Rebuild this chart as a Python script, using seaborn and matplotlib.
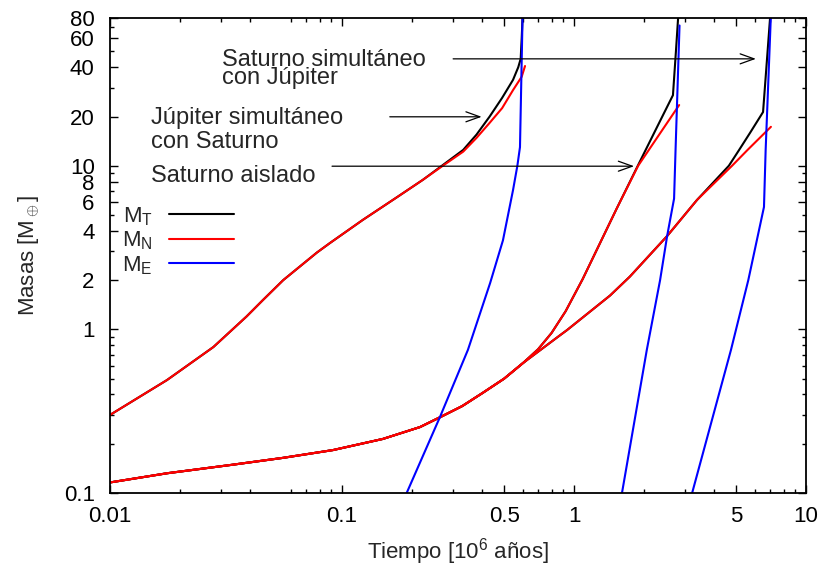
import numpy as np
import pandas as pd
import matplotlib
matplotlib.use("Agg")
import matplotlib.pyplot as plt
import seaborn as sns

# ---------------- data (time in 10^6 yr, masses in Earth masses) ----------------
# Júpiter simultáneo con Saturno
jup_t_T = [0.01, 0.0176, 0.0279, 0.0388, 0.0456, 0.0558, 0.078, 0.0887, 0.123, 0.173,
           0.223, 0.272, 0.333, 0.38, 0.433, 0.49, 0.546, 0.575, 0.589, 0.595, 0.60]
jup_M_T = [0.30, 0.49, 0.78, 1.20, 1.51, 2.0, 2.95, 3.37, 4.67, 6.44,
           8.2, 10.1, 12.5, 15.5, 20.0, 26.0, 33.5, 40.0, 45.0, 60.0, 80.0]
jup_t_N = [0.01, 0.0176, 0.0279, 0.0388, 0.0456, 0.0558, 0.078, 0.0887, 0.123, 0.173,
           0.223, 0.272, 0.333, 0.38, 0.433, 0.49, 0.546, 0.595, 0.615]
jup_M_N = [0.30, 0.49, 0.78, 1.20, 1.51, 2.0, 2.95, 3.37, 4.67, 6.44,
           8.2, 10.0, 12.2, 14.8, 18.3, 22.5, 29.0, 35.0, 40.7]
jup_t_E = [0.19, 0.264, 0.349, 0.435, 0.494, 0.546, 0.57, 0.585, 0.60]
jup_M_E = [0.1, 0.29, 0.75, 1.92, 3.5, 7.1, 10.0, 13.0, 80.0]

# common early growth of both Saturn runs
sat_t_0 = [0.01, 0.0176, 0.0339, 0.0557, 0.0915, 0.150, 0.217, 0.264, 0.33, 0.405, 0.5, 0.603]
sat_M_0 = [0.116, 0.132, 0.149, 0.164, 0.183, 0.214, 0.253, 0.29, 0.34, 0.41, 0.50, 0.623]

# Saturno aislado
sai_t_T = [0.70, 0.80, 0.92, 1.09, 1.53, 1.89, 2.25, 2.67, 2.75, 2.81]
sai_M_T = [0.756, 0.95, 1.29, 2.03, 5.5, 10.1, 16.6, 27.0, 50.0, 80.0]
sai_t_N = [0.70, 0.80, 0.92, 1.09, 1.53, 1.89, 2.3, 2.84]
sai_M_N = [0.756, 0.95, 1.29, 2.03, 5.5, 10.0, 15.1, 23.5]
sai_t_E = [1.61, 2.06, 2.35, 2.52, 2.70, 2.74, 2.85]
sai_M_E = [0.1, 0.75, 2.0, 3.72, 6.3, 12.5, 72.0]

# Saturno simultáneo con Júpiter
ssj_t_T = [0.87, 0.933, 1.43, 1.74, 2.52, 3.39, 4.65, 5.15, 5.74, 6.53, 6.75, 7.0]
ssj_M_T = [0.92, 0.99, 1.61, 2.1, 3.72, 6.18, 10.0, 12.5, 15.9, 21.3, 40.0, 80.0]
ssj_t_N = [0.87, 0.933, 1.43, 1.74, 2.52, 3.39, 4.8, 5.6, 7.06]
ssj_M_N = [0.92, 0.99, 1.61, 2.1, 3.72, 6.18, 10.0, 12.5, 17.3]
ssj_t_E = [3.23, 4.75, 5.64, 6.59, 6.7, 7.05]
ssj_M_E = [0.1, 0.75, 2.0, 5.6, 12.5, 80.0]

components = [r"$\mathrm{M_T}$", r"$\mathrm{M_N}$", r"$\mathrm{M_E}$"]
colors = ["black", "red", "blue"]

x_ticks = [0.01, 0.1, 0.5, 1, 5, 10]
x_labels = ["0.01", "0.1", "0.5", "1", "5", "10"]
y_ticks = [0.1, 1, 2, 4, 6, 8, 10, 20, 40, 60, 80]
y_labels = ["0.1", "1", "2", "4", "6", "8", "10", "20", "40", "60", "80"]

# ---------------- build long table ----------------
runs = {
    "jup": {components[0]: (jup_t_T, jup_M_T), components[1]: (jup_t_N, jup_M_N),
            components[2]: (jup_t_E, jup_M_E)},
    "sai": {components[0]: (sat_t_0 + sai_t_T, sat_M_0 + sai_M_T),
            components[1]: (sat_t_0 + sai_t_N, sat_M_0 + sai_M_N),
            components[2]: (sai_t_E, sai_M_E)},
    "ssj": {components[0]: (sat_t_0 + ssj_t_T, sat_M_0 + ssj_M_T),
            components[1]: (sat_t_0 + ssj_t_N, sat_M_0 + ssj_M_N),
            components[2]: (ssj_t_E, ssj_M_E)},
}
rows = []
for sim, comps in runs.items():
    for comp, (tt, mm) in comps.items():
        for t, m in zip(tt, mm):
            rows.append({"t": t, "M": m, "comp": comp, "sim": sim})
df = pd.DataFrame(rows)

# ---------------- style ----------------
sns.set_style("ticks")
plt.rcParams["font.family"] = ["Liberation Sans", "DejaVu Sans"]
plt.rcParams["mathtext.fontset"] = "custom"
plt.rcParams["mathtext.rm"] = "Liberation Sans"
plt.rcParams["mathtext.it"] = "Liberation Sans:italic"
plt.rcParams["mathtext.bf"] = "Liberation Sans:bold"

fig = plt.figure(figsize=(8.21, 5.68), dpi=100)
ax = fig.add_axes([110 / 821, 75 / 568, 696 / 821, 475 / 568])
ax.set_xscale("log")
ax.set_yscale("log")

sns.lineplot(data=df, x="t", y="M", hue="comp", hue_order=components,
             palette=dict(zip(components, colors)), units="sim", estimator=None,
             sort=False, lw=1.5, ax=ax)

ax.set_xlim(0.01, 10)
ax.set_ylim(0.1, 80)

FS = 16
ax.set_xticks(x_ticks, x_labels)
ax.set_yticks(y_ticks, y_labels)
xminor = [k * 10.0 ** e for e in (-2, -1, 0) for k in range(2, 10) if k != 5]
yminor = [k * 10.0 ** e for e in (-1,) for k in range(2, 10)] + [3, 5, 7, 9, 30, 50, 70]
ax.set_xticks(xminor, minor=True)
ax.set_yticks(yminor, minor=True)
ax.set_xticklabels([], minor=True)
ax.set_yticklabels([], minor=True)
ax.tick_params(which="both", direction="in", top=True, right=True, colors="black",
               width=1.0)
ax.tick_params(which="major", length=6, labelsize=FS)
ax.tick_params(which="minor", length=3)
ax.tick_params(axis="x", which="major", pad=9)
ax.tick_params(axis="y", which="major", pad=11)
for s in ax.spines.values():
    s.set_linewidth(1.3)
    s.set_color("black")

ax.set_xlabel(r"Tiempo [10$^6$ años]", fontsize=FS, labelpad=7)
ax.set_ylabel(r"Masas [M$_\oplus$]", fontsize=FS, labelpad=16)

handles, labels = ax.get_legend_handles_labels()
ax.legend(handles, labels, markerfirst=False, frameon=False, fontsize=FS,
          loc="upper left", bbox_to_anchor=(0.0170, 0.606), borderpad=0,
          borderaxespad=0, handlelength=2.9, handletextpad=0.75, labelspacing=0.08)

# annotations
TFS = 17
tr = ax.transAxes
ax.text(0.161, 0.899, "Saturno simultáneo", transform=tr, fontsize=TFS, va="baseline")
ax.text(0.161, 0.861, "con Júpiter", transform=tr, fontsize=TFS, va="baseline")
ax.text(0.0589, 0.777, "Júpiter simultáneo", transform=tr, fontsize=TFS, va="baseline")
ax.text(0.0589, 0.726, "con Saturno", transform=tr, fontsize=TFS, va="baseline")
ax.text(0.0589, 0.655, "Saturno aislado", transform=tr, fontsize=TFS, va="baseline")

aprops = dict(arrowstyle="->,head_length=0.5,head_width=0.18", lw=0.9, color="black",
              shrinkA=0, shrinkB=0, mutation_scale=20)
ax.annotate("", xy=(0.928, 0.914), xytext=(0.493, 0.914), xycoords=tr, textcoords=tr,
            arrowprops=aprops)
ax.annotate("", xy=(0.534, 0.792), xytext=(0.402, 0.792), xycoords=tr, textcoords=tr,
            arrowprops=aprops)
ax.annotate("", xy=(0.753, 0.688), xytext=(0.319, 0.688), xycoords=tr, textcoords=tr,
            arrowprops=aprops)

fig.savefig("out.png", dpi=100)
